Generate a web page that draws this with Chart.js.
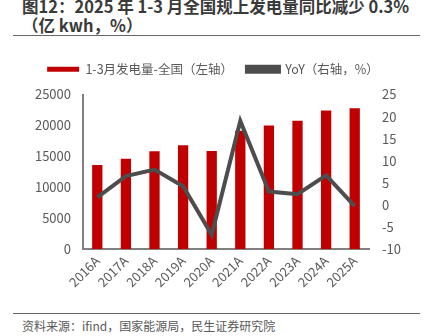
<!DOCTYPE html>
<html>
<head>
<meta charset="utf-8">
<script src="https://cdn.jsdelivr.net/npm/chart.js@4/dist/chart.umd.min.js"></script>
<style>
  body { margin: 0; width: 426px; height: 336px; overflow: hidden; background: #fff; position: relative;
         font-family: "Noto Sans CJK SC", "Noto Sans", sans-serif; }
  .title { position: absolute; left: 22px; top: -3px; width: 404px; font-size: 16.5px; font-weight: bold;
           color: #3a3a3a; line-height: 19px; white-space: nowrap; }
  .rule { position: absolute; left: 13px; width: 407px; height: 1px; background: #666; }
  .source { position: absolute; left: 22px; top: 317px; font-size: 12px; color: #595959; }
  #wrap { position: absolute; left: 0; top: 37px; width: 426px; height: 257px; }
</style>
</head>
<body>
<div class="title">图12：2025 年 1-3 月全国规上发电量同比减少 0.3%<br>（亿 kwh，%）</div>
<div class="rule" style="top:35px"></div>
<div id="wrap"><canvas id="myChart"></canvas></div>
<div class="rule" style="top:313px"></div>
<div class="source">资料来源：ifind，国家能源局，民生证券研究院</div>
<script>
var years = ['2016A', '2017A', '2018A', '2019A', '2020A', '2021A', '2022A', '2023A', '2024A', '2025A'];
var output = [13600, 14600, 15800, 16780, 15850, 19150, 19980, 20750, 22430, 22760];
var yoy = [1.7, 6.5, 8.0, 4.2, -6.8, 19.0, 3.0, 2.4, 6.7, -0.3];
var leftTicks = [0, 5000, 10000, 15000, 20000, 25000];
var rightTicks = [-10, -5, 0, 5, 10, 15, 20, 25];

var fontFamily = '"Noto Sans CJK SC", "Noto Sans", sans-serif';
var tickFont = { family: fontFamily, size: 13 };

// extra gap between legend and plot area
var legendGap = {
  id: 'legendGap',
  beforeInit: function (chart) {
    var fit = chart.legend.fit;
    chart.legend.fit = function () {
      fit.bind(chart.legend)();
      this.height += 9;
    };
  }
};

var ctx = document.getElementById('myChart').getContext('2d');
var myChart = new Chart(ctx, {
  type: 'bar',
  data: {
    labels: years,
    datasets: [{
        type: 'line',
        label: 'YoY（右轴，%）',
        data: yoy,
        yAxisID: 'y1',
        borderColor: '#4d4d4d',
        backgroundColor: '#4d4d4d',
        borderWidth: 4,
        pointRadius: 0,
        tension: 0,
        order: 0
      }, {
        label: '1-3月发电量-全国（左轴）',
        data: output,
        yAxisID: 'y',
        backgroundColor: '#c00000',
        barPercentage: 0.36,
        categoryPercentage: 1,
        order: 1
      }]
  },
  plugins: [legendGap],
  options: {
    responsive: true,
    maintainAspectRatio: false,
    animation: false,
    layout: { padding: { left: 0, right: 0, top: 12, bottom: 0 } },
    plugins: {
      legend: {
        reverse: true,
        labels: {
          boxWidth: 32,
          boxHeight: 5,
          padding: 14,
          color: '#595959',
          font: { family: fontFamily, size: 12.5 }
        }
      },
      tooltip: { enabled: false }
    },
    scales: {
      x: {
        grid: { display: false, drawTicks: false },
        border: { color: '#808080', width: 2 },
        ticks: { color: '#595959', font: tickFont, maxRotation: 45, minRotation: 45, padding: 4 }
      },
      y: {
        position: 'left',
        min: 0, max: 25000,
        afterBuildTicks: function (axis) { axis.ticks = leftTicks.map(function (v) { return { value: v }; }); },
        afterFit: function (axis) { axis.width = 83; },
        grid: { display: false, drawTicks: false },
        border: { color: '#808080', width: 2 },
        ticks: { color: '#595959', font: tickFont, padding: 12, autoSkip: false,
                 callback: function (v) { return String(v); } }
      },
      y1: {
        position: 'right',
        min: -10, max: 25,
        afterBuildTicks: function (axis) { axis.ticks = rightTicks.map(function (v) { return { value: v }; }); },
        afterFit: function (axis) { axis.width = 57; },
        grid: { display: false, drawTicks: false },
        border: { display: false },
        ticks: { color: '#595959', font: tickFont, padding: 13, autoSkip: false,
                 callback: function (v) { return String(v); } }
      }
    }
  }
});
</script>
</body>
</html>
